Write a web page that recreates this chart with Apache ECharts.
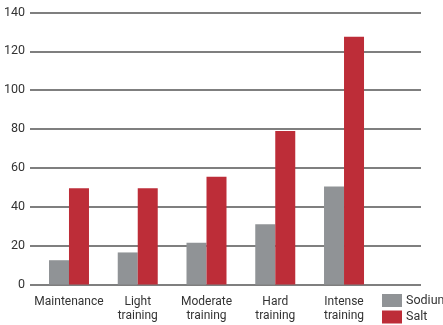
<!DOCTYPE html>
<html>
<head>
<meta charset="utf-8">
<script src="https://cdn.jsdelivr.net/npm/echarts@6/dist/echarts.min.js"></script>
<style>
  html, body { margin: 0; padding: 0; background: #fff; }
  #chart { width: 443px; height: 325px; }
</style>
</head>
<body>
<div id="chart"></div>
<script>
// Daily sodium and salt needs by activity level
const categories = ['Maintenance', 'Light\ntraining', 'Moderate\ntraining', 'Hard\ntraining', 'Intense\ntraining'];
const sodiumValues = [12.5, 16.5, 21.5, 31, 50.5];
const saltValues = [49.5, 49.5, 55.5, 79, 127.5];
const yTicks = [0, 20, 40, 60, 80, 100, 120, 140];

const FONT = "Roboto, 'Liberation Sans', Arial, sans-serif";
const TOP = 12.5;
const BOTTOM = 40.5;

const chart = echarts.init(document.getElementById('chart'), null, { renderer: 'canvas' });

chart.setOption({
  animation: false,
  backgroundColor: '#ffffff',
  grid: [
    // background grid carrying the horizontal rules and value labels
    { left: 30, right: 22, top: TOP, bottom: BOTTOM, containLabel: false },
    // bar grid carrying the categories
    { left: 34.6, width: 343.8, top: TOP, bottom: BOTTOM, containLabel: false }
  ],
  legend: {
    orient: 'vertical',
    left: 382,
    top: 294,
    padding: 0,
    itemWidth: 20,
    itemHeight: 13,
    itemGap: 3.5,
    icon: 'rect',
    textStyle: { fontFamily: FONT, fontSize: 12.5, color: '#333', padding: [0, 0, 0, -1] },
    data: ['Sodium', 'Salt']
  },
  xAxis: [
    { type: 'value', gridIndex: 0, min: 0, max: 1, show: false },
    {
      type: 'category',
      gridIndex: 1,
      data: categories,
      axisLine: { show: false },
      axisTick: { show: false },
      axisLabel: {
        interval: 0,
        margin: 10,
        fontFamily: FONT,
        fontSize: 12,
        lineHeight: 14.5,
        color: '#333'
      }
    }
  ],
  yAxis: [
    {
      type: 'value',
      gridIndex: 0,
      min: yTicks[0],
      max: yTicks[yTicks.length - 1],
      interval: 20,
      axisLine: { show: false },
      axisTick: { show: false },
      axisLabel: { margin: 5, fontFamily: FONT, fontSize: 12.5, color: '#333' },
      splitLine: { show: true, lineStyle: { color: '#555', width: 1.5 } }
    },
    {
      type: 'value',
      gridIndex: 1,
      min: yTicks[0],
      max: yTicks[yTicks.length - 1],
      show: false,
      splitLine: { show: false }
    }
  ],
  series: [
    {
      name: 'Sodium',
      type: 'bar',
      xAxisIndex: 1,
      yAxisIndex: 1,
      data: sodiumValues,
      barWidth: 20,
      barGap: '0%',
      itemStyle: { color: '#909396' }
    },
    {
      name: 'Salt',
      type: 'bar',
      xAxisIndex: 1,
      yAxisIndex: 1,
      data: saltValues,
      barWidth: 20,
      barGap: '0%',
      itemStyle: { color: '#bd2d38' }
    }
  ]
});
</script>
</body>
</html>
